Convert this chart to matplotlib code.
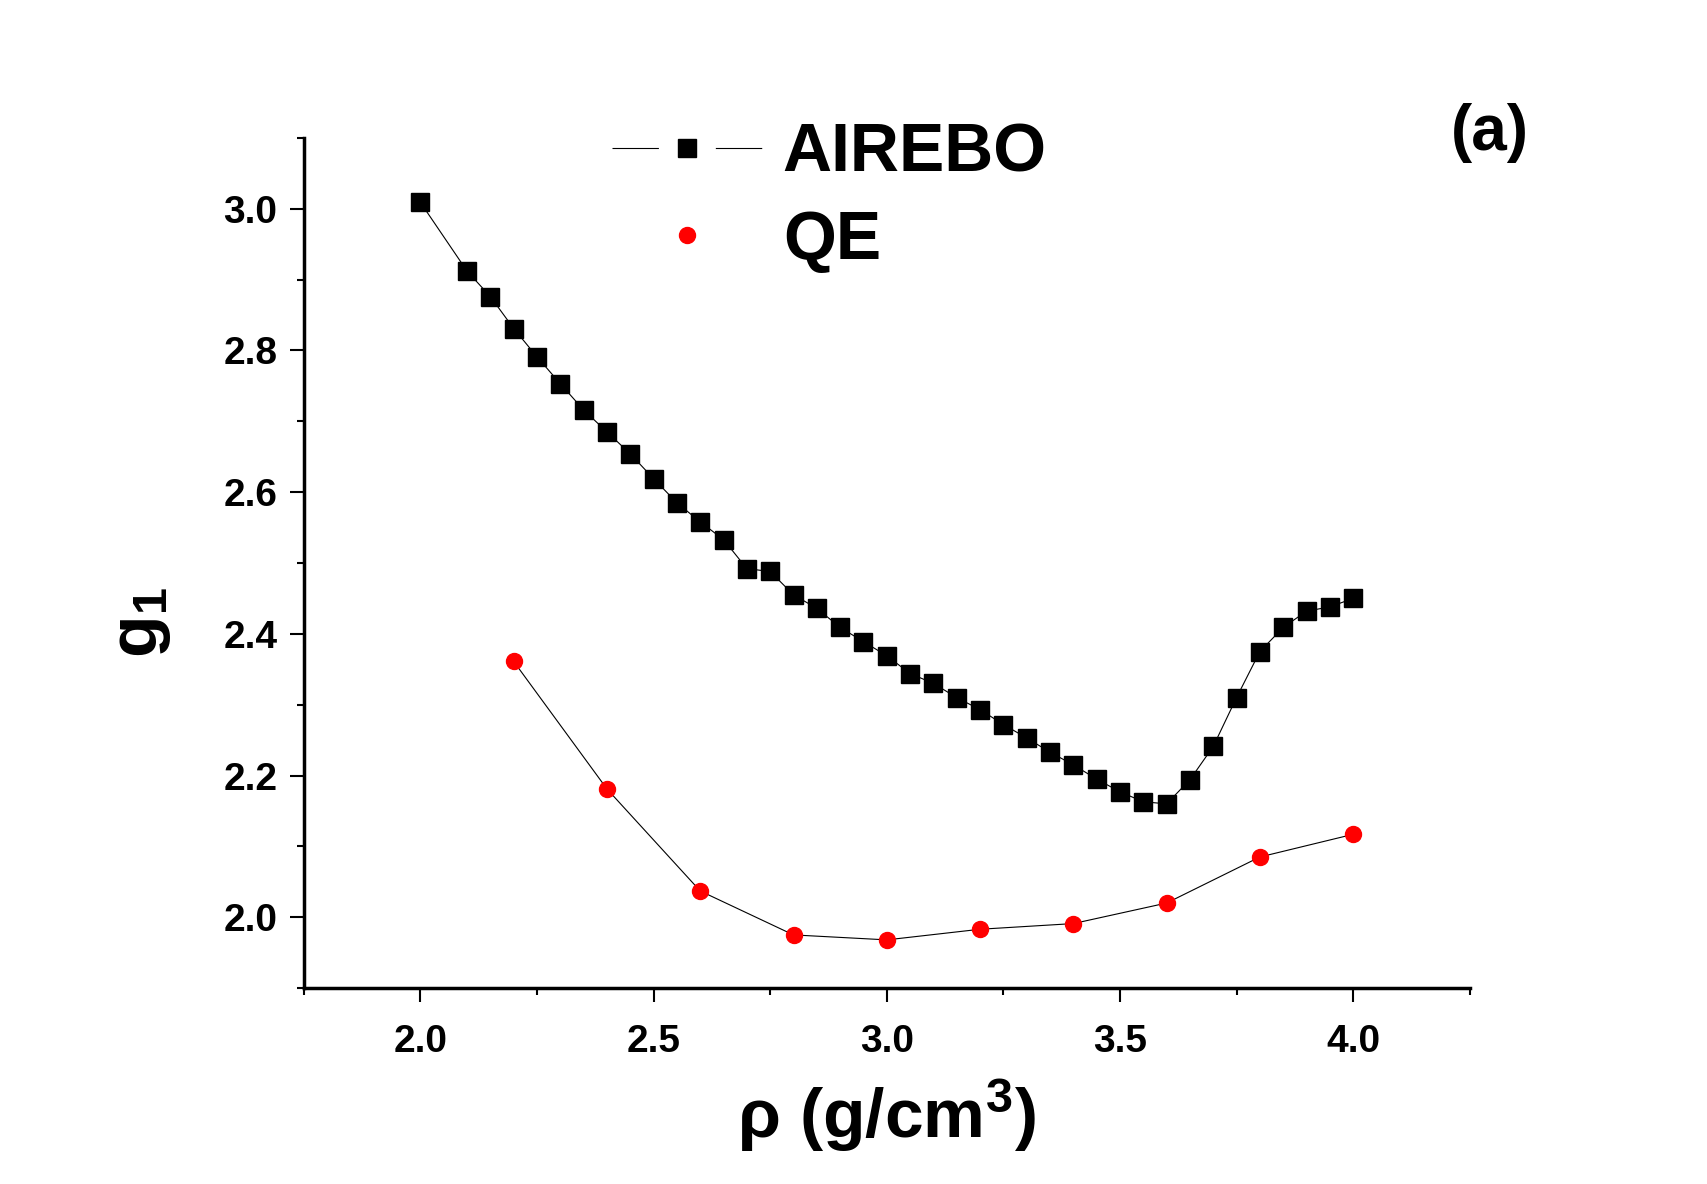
import numpy as np
import matplotlib
matplotlib.use('Agg')
from matplotlib import pyplot as plt
from matplotlib.ticker import MultipleLocator
from matplotlib.lines import Line2D

# AIREBO data
rho_airebo = [2.0, 2.1, 2.15, 2.2, 2.25, 2.3, 2.35, 2.4, 2.45, 2.5, 2.55, 2.6, 2.65,
              2.7, 2.75, 2.8, 2.85, 2.9, 2.95, 3.0, 3.05, 3.1, 3.15, 3.2, 3.25, 3.3,
              3.35, 3.4, 3.45, 3.5, 3.55, 3.6, 3.65, 3.7, 3.75, 3.8, 3.85, 3.9, 3.95, 4.0]
g1_airebo = [3.009, 2.912, 2.876, 2.831, 2.791, 2.753, 2.716, 2.685, 2.654, 2.619,
             2.585, 2.558, 2.533, 2.492, 2.488, 2.455, 2.436, 2.409, 2.389, 2.369,
             2.344, 2.330, 2.310, 2.293, 2.272, 2.253, 2.233, 2.215, 2.195, 2.177,
             2.163, 2.160, 2.194, 2.241, 2.310, 2.375, 2.409, 2.432, 2.438, 2.450]

# QE data
rho_qe = [2.2, 2.4, 2.6, 2.8, 3.0, 3.2, 3.4, 3.6, 3.8, 4.0]
g1_qe = [2.361, 2.181, 2.037, 1.975, 1.968, 1.983, 1.991, 2.020, 2.085, 2.117]

plt.rcParams['font.family'] = ['Liberation Sans', 'DejaVu Sans']
plt.rcParams['font.weight'] = 'bold'
plt.rcParams['mathtext.fontset'] = 'custom'
plt.rcParams['mathtext.rm'] = 'Liberation Sans:bold'
plt.rcParams['mathtext.it'] = 'Liberation Sans:bold'
plt.rcParams['mathtext.bf'] = 'Liberation Sans:bold'
plt.rcParams['lines.scale_dashes'] = False

fig = plt.figure(figsize=(17.07, 11.84), dpi=100)
ax = fig.add_axes([0.178, 0.1655, 0.683, 0.718])

ax.plot(rho_airebo, g1_airebo, color='black', lw=0.8, marker='s', ms=13.5,
        mec='black', mfc='black')
ax.plot(rho_qe, g1_qe, color='black', lw=0.8)
ax.plot(rho_qe, g1_qe, ls='none', marker='o', ms=11.5, mfc='red', mec='red')

ax.set_xlim(1.75, 4.25)
ax.set_ylim(1.9, 3.1)
ax.xaxis.set_major_locator(MultipleLocator(0.5))
ax.xaxis.set_minor_locator(MultipleLocator(0.25))
ax.yaxis.set_major_locator(MultipleLocator(0.2))
ax.yaxis.set_minor_locator(MultipleLocator(0.1))

for s in ['top', 'right']:
    ax.spines[s].set_visible(False)
for s in ['left', 'bottom']:
    ax.spines[s].set_linewidth(2.5)

ax.tick_params(axis='both', which='major', direction='out', length=10, width=1.5,
               labelsize=28)
ax.tick_params(axis='both', which='minor', direction='out', length=5, width=1.5)
ax.tick_params(axis='x', which='major', pad=16)
ax.tick_params(axis='y', which='major', pad=9)
for lab in ax.get_xticklabels() + ax.get_yticklabels():
    lab.set_fontweight('bold')

ax.set_xlabel(r'ρ (g/cm$^{3}$)', fontsize=50, fontweight='bold', labelpad=12)
ax.set_ylabel(r'g$_{1}$', fontsize=50, fontweight='bold')
ax.yaxis.set_label_coords(-0.112, 0.43)

# legend handles (line broken around the marker, as in the original)
leg_fs = 49
leg_hl = 2.2
seg = (leg_fs * leg_hl - 41) / 2
h_airebo = Line2D([], [], color='black', lw=0.8, ls=(0, (seg, 41)),
                  marker='s', ms=13.5, mfc='black', mec='black')
h_qe = Line2D([], [], ls='none', marker='o', ms=11.5, mfc='red', mec='red')

leg = fig.legend([h_airebo, h_qe], ['AIREBO', 'QE'], loc='upper left',
                 bbox_to_anchor=(0.3585, 0.897), frameon=False,
                 fontsize=leg_fs, handlelength=leg_hl, handletextpad=0.31,
                 labelspacing=0.34, borderpad=0, borderaxespad=0)
for t in leg.get_texts():
    t.set_fontweight('bold')

fig.text(0.873, 0.888, '(a)', fontsize=46, fontweight='bold', ha='center', va='center')

fig.savefig('out.png', dpi=100)
